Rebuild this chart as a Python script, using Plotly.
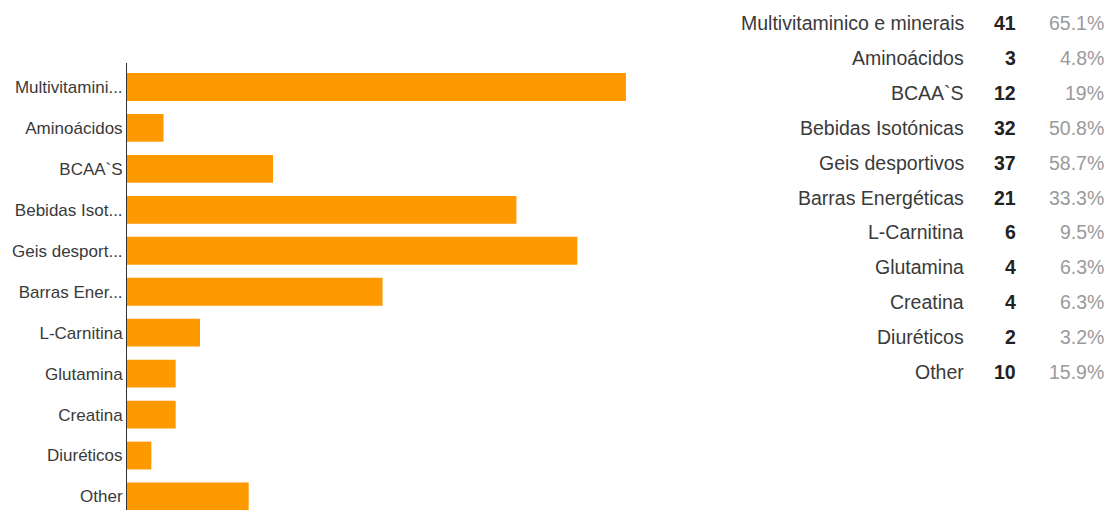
import plotly.graph_objects as go

# Survey answers: supplements used
categories = [
    "Multivitaminico e minerais", "Aminoácidos", "BCAA`S", "Bebidas Isotónicas",
    "Geis desportivos", "Barras Energéticas", "L-Carnitina", "Glutamina",
    "Creatina", "Diuréticos", "Other",
]
tick_labels = [
    "Multivitamini...", "Aminoácidos", "BCAA`S", "Bebidas Isot...",
    "Geis desport...", "Barras Ener...", "L-Carnitina", "Glutamina",
    "Creatina", "Diuréticos", "Other",
]
counts = [41, 3, 12, 32, 37, 21, 6, 4, 4, 2, 10]
percent_labels = ["65.1%", "4.8%", "19%", "50.8%", "58.7%", "33.3%",
                  "9.5%", "6.3%", "6.3%", "3.2%", "15.9%"]

W, H = 1117, 510
LEFT, RIGHT_EDGE, TOP = 127, 690, 63
PX_PER_UNIT = 12.17
FONT = "Arial, Liberation Sans, sans-serif"

positions = list(range(len(categories)))

fig = go.Figure(
    go.Bar(
        y=positions,
        x=counts,
        orientation="h",
        width=0.68,
        marker=dict(color="#ff9900", line=dict(width=0)),
        hovertext=categories,
    )
)

# Summary table on the right: label, count, percentage
def paper_x(px):
    return (px - LEFT) / (RIGHT_EDGE - LEFT)

def paper_y(py):
    return (H - py) / (H - TOP)

row_top, row_step = 23, 34.9
annotations = []
for i, (name, n, pct) in enumerate(zip(categories, counts, percent_labels)):
    py = row_top + i * row_step
    common = dict(xref="paper", yref="paper", y=paper_y(py), yanchor="middle",
                  xanchor="right", showarrow=False)
    annotations.append(dict(text=name, x=paper_x(966),
                            font=dict(family=FONT, size=19.5, color="#3a3a3a"), **common))
    annotations.append(dict(text=f"<b>{n}</b>", x=paper_x(1018),
                            font=dict(family=FONT, size=19.5, color="#222222"), **common))
    annotations.append(dict(text=pct, x=paper_x(1106),
                            font=dict(family=FONT, size=19.5, color="#9a9a9a"), **common))

fig.update_layout(
    template="none",
    width=W,
    height=H,
    margin=dict(l=LEFT, r=W - RIGHT_EDGE, t=TOP, b=0, pad=0),
    paper_bgcolor="white",
    plot_bgcolor="white",
    showlegend=False,
    bargap=0.3,
    xaxis=dict(
        range=[0, (RIGHT_EDGE - LEFT) / PX_PER_UNIT],
        showgrid=False, zeroline=False, showticklabels=False,
        showline=False, ticks="", automargin=False,
    ),
    yaxis=dict(
        tickvals=positions,
        ticktext=tick_labels,
        range=[10.33, -0.586],
        showgrid=False, zeroline=False,
        showline=True, linecolor="#333333", linewidth=1,
        ticks="", automargin=False,
        tickfont=dict(family=FONT, size=17, color="#3a3a3a"),
    ),
    annotations=annotations,
)

fig.write_html("out.html")
